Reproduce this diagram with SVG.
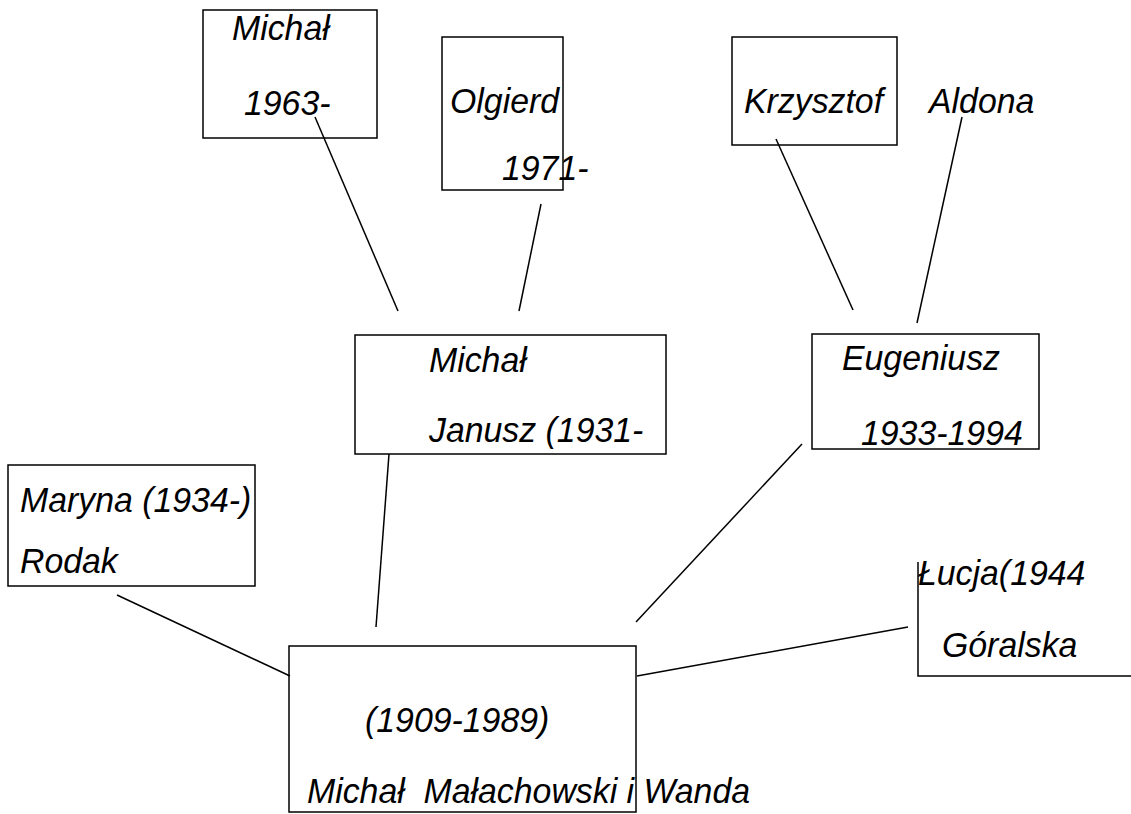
<svg xmlns="http://www.w3.org/2000/svg" width="1131" height="814" viewBox="0 0 1131 814">
<style>
.box{fill:#fff;stroke:#000;stroke-width:1.5}
.t{font-family:"Liberation Sans",Arial,sans-serif;font-style:italic;font-size:36px;fill:#000;white-space:pre}
.c line{stroke:#000;stroke-width:1.5}
</style>
<rect width="1131" height="814" fill="#fff"/>
<g id="n-michal-1963">
<rect class="box" x="203" y="10" width="174" height="128"/>
<text class="t" transform="translate(232,40) scale(0.94,1)">Michał</text>
<text class="t" transform="translate(244,115) scale(0.94,1)">1963-</text>
</g>
<g id="n-olgierd">
<rect class="box" x="442" y="37" width="121" height="153"/>
<text class="t" transform="translate(450,113) scale(0.94,1)">Olgierd</text>
<text class="t" transform="translate(502,180) scale(0.94,1)">1971-</text>
</g>
<g id="n-krzysztof">
<rect class="box" x="732" y="37" width="165" height="108"/>
<text class="t" transform="translate(744,113) scale(0.94,1)">Krzysztof</text>
</g>
<g id="n-aldona">
<text class="t" transform="translate(929,113) scale(0.94,1)">Aldona</text>
</g>
<g id="n-michal-janusz">
<rect class="box" x="355" y="335" width="311" height="119"/>
<text class="t" transform="translate(429,372) scale(0.94,1)">Michał</text>
<text class="t" transform="translate(429,442) scale(0.94,1)">Janusz (1931-</text>
</g>
<g id="n-eugeniusz">
<rect class="box" x="812" y="334" width="227" height="115"/>
<text class="t" transform="translate(842,370) scale(0.94,1)">Eugeniusz</text>
<text class="t" transform="translate(861,445) scale(0.94,1)">1933-1994</text>
</g>
<g id="n-maryna">
<rect class="box" x="8" y="465" width="247" height="121"/>
<text class="t" transform="translate(20,512) scale(0.94,1)">Maryna (1934-)</text>
<text class="t" transform="translate(20,573) scale(0.94,1)">Rodak</text>
</g>
<g id="n-lucja">
<path class="box" fill="none" d="M918,562 V676 H1131"/>
<text class="t" transform="translate(918,585) scale(0.94,1)">Łucja(1944</text>
<text class="t" transform="translate(942,657) scale(0.94,1)">Góralska</text>
</g>
<g id="n-main">
<rect class="box" x="289" y="646" width="347" height="166"/>
<text class="t" transform="translate(365,732) scale(0.94,1)">(1909-1989)</text>
<text class="t" transform="translate(307,803) scale(0.94,1)" xml:space="preserve">Michał  Małachowski i Wanda</text>
</g>
<g id="connectors" class="c">
<line x1="315" y1="117" x2="398" y2="311"/>
<line x1="541" y1="204" x2="519" y2="311"/>
<line x1="776" y1="139" x2="853" y2="310"/>
<line x1="962" y1="117" x2="917" y2="323"/>
<line x1="389" y1="454" x2="376" y2="627"/>
<line x1="802" y1="444" x2="636" y2="622"/>
<line x1="117" y1="595" x2="290" y2="676"/>
<line x1="637" y1="676" x2="908" y2="627"/>
</g>
</svg>
